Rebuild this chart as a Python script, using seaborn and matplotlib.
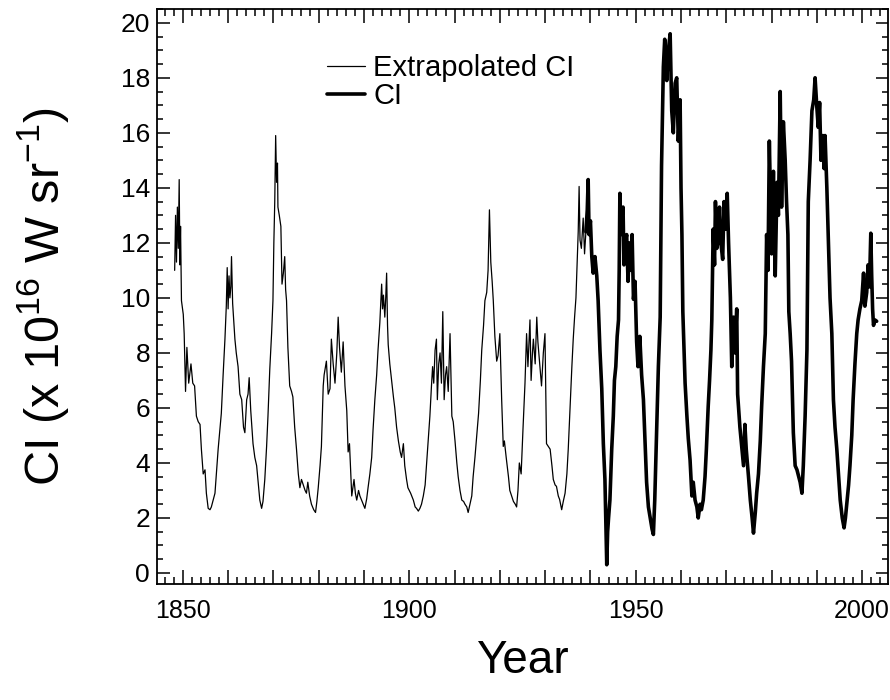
import matplotlib
matplotlib.use('Agg')
import matplotlib.pyplot as plt
import pandas as pd
import seaborn as sns
from matplotlib.ticker import MultipleLocator, FuncFormatter

# extrapolated CI (thin line)
ext_year = [1848.2, 1848.4, 1848.6, 1848.8, 1849.0, 1849.2, 1849.35, 1849.5, 1849.7, 1850.1,
            1850.3, 1850.6, 1850.9, 1851.3, 1851.8, 1852.2, 1852.6, 1853.0, 1853.4, 1853.8,
            1854.1, 1854.5, 1854.9, 1855.2, 1855.6, 1856.0, 1856.3, 1857.1, 1857.8, 1858.5,
            1858.9, 1859.3, 1859.6, 1859.8, 1860.0, 1860.2, 1860.4, 1860.6, 1860.75, 1861.0,
            1861.5, 1861.8, 1862.2, 1862.6, 1863.0, 1863.4, 1863.7, 1864.1, 1864.4, 1864.65,
            1865.0, 1865.5, 1865.9, 1866.3, 1866.7, 1867.0, 1867.4, 1867.7, 1868.1, 1868.5,
            1868.8, 1869.2, 1869.6, 1869.9, 1870.1, 1870.3, 1870.5, 1870.7, 1870.9, 1871.0,
            1871.3, 1871.65, 1871.9, 1872.2, 1872.5, 1872.7, 1872.9, 1873.2, 1873.6, 1874.0,
            1874.3, 1874.7, 1875.1, 1875.5, 1875.85, 1876.2, 1876.6, 1877.0, 1877.3, 1877.6,
            1878.0, 1878.4, 1878.9, 1879.3, 1879.6, 1879.9, 1880.3, 1880.6, 1881.0, 1881.2,
            1881.7, 1882.1, 1882.5, 1882.8, 1883.2, 1883.6, 1884.0, 1884.3, 1884.6, 1885.0,
            1885.4, 1885.8, 1886.2, 1886.5, 1886.8, 1887.3, 1887.8, 1888.1, 1888.4, 1888.8,
            1889.1, 1889.6, 1890.2, 1890.6, 1890.9, 1891.3, 1891.7, 1892.0, 1892.4, 1892.8,
            1893.1, 1893.5, 1893.7, 1893.9, 1894.1, 1894.3, 1894.6, 1894.8, 1895.0, 1895.2,
            1895.35, 1895.7, 1896.1, 1896.5, 1896.8, 1897.2, 1897.6, 1898.0, 1898.3, 1898.7,
            1899.0, 1899.4, 1899.7, 1900.3, 1900.9, 1901.3, 1901.6, 1902.0, 1902.35, 1902.7,
            1903.1, 1903.5, 1903.8, 1904.2, 1904.55, 1904.9, 1905.15, 1905.4, 1905.7, 1906.0,
            1906.2, 1906.5, 1906.8, 1907.1, 1907.4, 1907.7, 1908.0, 1908.25, 1908.6, 1909.0,
            1909.4, 1909.7, 1910.1, 1910.5, 1910.8, 1911.2, 1911.6, 1912.0, 1912.3, 1912.7,
            1913.0, 1913.4, 1913.8, 1914.1, 1914.5, 1914.9, 1915.3, 1915.7, 1916.0, 1916.4,
            1916.7, 1917.1, 1917.4, 1917.7, 1918.0, 1918.3, 1918.55, 1918.9, 1919.3, 1919.6,
            1920.0, 1920.4, 1920.75, 1921.0, 1921.4, 1921.9, 1922.2, 1922.6, 1923.0, 1923.4,
            1923.7, 1924.0, 1924.3, 1924.7, 1925.1, 1925.55, 1925.9, 1926.2, 1926.65, 1926.9,
            1927.2, 1927.4, 1927.8, 1928.15, 1928.4, 1928.8, 1929.2, 1929.6, 1929.96, 1930.3,
            1930.7, 1931.1, 1931.5, 1931.8, 1932.2, 1932.5, 1932.9, 1933.2, 1933.65, 1934.0,
            1934.4, 1934.8, 1935.1, 1935.5, 1935.9, 1936.2, 1936.5, 1936.8, 1937.1, 1937.3,
            1937.5, 1937.7, 1938.0, 1938.4, 1938.7, 1939.0]
ext_ci = [11.0, 13.0, 11.3, 13.3, 11.8, 14.3, 11.2, 12.6, 9.9, 9.4,
          8.7, 6.6, 8.2, 6.9, 7.6, 6.9, 6.8, 5.7, 5.5, 5.4,
          4.5, 3.6, 3.75, 2.9, 2.35, 2.3, 2.4, 2.9, 4.5, 5.8,
          7.2, 8.5, 9.7, 11.1, 9.6, 10.8, 10.0, 10.4, 11.5, 9.8,
          8.5, 8.0, 7.5, 6.5, 6.3, 5.3, 5.1, 6.3, 6.5, 7.1,
          5.9, 4.7, 4.2, 3.9, 3.2, 2.65, 2.35, 2.6, 3.4, 4.6,
          5.7, 7.4, 8.7, 9.9, 12.0, 13.5, 15.9, 14.2, 14.9, 13.3,
          13.0, 12.6, 10.5, 10.9, 11.5, 10.3, 9.9, 8.2, 6.8, 6.6,
          6.4, 5.3, 4.5, 3.6, 3.1, 3.4, 3.2, 3.0, 2.9, 3.3,
          2.8, 2.5, 2.3, 2.2, 2.6, 3.1, 3.9, 4.6, 6.8, 7.2,
          7.7, 6.5, 6.7, 8.5, 7.6, 6.9, 8.0, 9.3, 8.2, 7.3,
          8.4, 6.8, 5.9, 4.4, 4.7, 2.8, 3.4, 2.9, 2.65, 3.0,
          2.8, 2.6, 2.35, 2.7, 3.1, 3.6, 4.2, 5.2, 6.3, 7.2,
          8.1, 9.1, 9.8, 10.5, 9.6, 10.1, 9.3, 10.0, 10.9, 9.0,
          8.3, 7.6, 7.0, 6.4, 6.0, 5.3, 4.8, 4.4, 4.2, 4.7,
          3.9, 3.4, 3.1, 2.9, 2.65, 2.4, 2.35, 2.25, 2.35, 2.5,
          2.8, 3.2, 3.9, 4.8, 5.7, 6.8, 7.5, 6.9, 8.1, 8.5,
          6.3, 7.6, 8.0, 6.9, 9.5, 6.3, 7.2, 7.5, 6.6, 8.7,
          5.7, 5.5, 4.8, 4.0, 3.5, 3.0, 2.65, 2.6, 2.5, 2.4,
          2.2, 2.5, 2.8, 3.5, 4.2, 5.0, 5.8, 7.0, 8.1, 9.0,
          9.9, 10.2, 11.0, 13.2, 11.3, 10.6, 9.9, 8.6, 7.7, 7.9,
          8.7, 6.3, 4.6, 4.8, 4.2, 3.5, 3.0, 2.8, 2.6, 2.5,
          2.4, 3.0, 4.0, 3.6, 5.2, 6.9, 8.7, 7.5, 9.2, 7.0,
          8.0, 8.5, 7.6, 9.3, 8.4, 7.6, 6.8, 8.0, 8.7, 4.7,
          4.6, 4.5, 3.9, 3.4, 3.2, 3.15, 2.8, 2.67, 2.3, 2.6,
          2.9, 3.6, 4.5, 6.0, 7.5, 8.5, 9.3, 10.0, 11.5, 12.4,
          14.05, 12.1, 11.8, 12.9, 11.6, 12.4]

# measured CI (thick line)
obs_year = [1939.0, 1939.3, 1939.5, 1939.7, 1940.0, 1940.3, 1940.6, 1941.0, 1941.4, 1941.7,
            1942.1, 1942.5, 1942.85, 1943.2, 1943.6, 1943.8, 1944.0, 1944.3, 1944.7, 1945.05,
            1945.3, 1945.6, 1945.9, 1946.2, 1946.35, 1946.5, 1946.7, 1947.0, 1947.2, 1947.4,
            1947.7, 1948.0, 1948.3, 1948.6, 1948.9, 1949.2, 1949.5, 1949.85, 1950.2, 1950.5,
            1950.9, 1951.3, 1951.7, 1952.05, 1952.4, 1952.8, 1953.2, 1953.6, 1953.9, 1954.2,
            1954.6, 1955.0, 1955.4, 1955.7, 1956.1, 1956.4, 1956.85, 1957.2, 1957.6, 1957.95,
            1958.3, 1958.7, 1959.05, 1959.4, 1959.8, 1960.0, 1960.2, 1960.4, 1960.6, 1960.9,
            1961.3, 1961.6, 1962.0, 1962.4, 1962.7, 1963.1, 1963.5, 1963.8, 1964.2, 1964.5,
            1964.9, 1965.3, 1965.6, 1966.0, 1966.3, 1966.6, 1966.8, 1967.1, 1967.4, 1967.6,
            1967.9, 1968.2, 1968.5, 1968.8, 1969.2, 1969.5, 1969.8, 1970.2, 1970.5, 1970.9,
            1971.2, 1971.6, 1971.9, 1972.3, 1972.5, 1973.0, 1973.4, 1973.8, 1974.1, 1974.4,
            1974.9, 1975.3, 1975.7, 1976.0, 1976.4, 1976.7, 1977.1, 1977.5, 1977.8, 1978.2,
            1978.6, 1978.9, 1979.2, 1979.5, 1980.0, 1980.4, 1980.8, 1981.2, 1981.5, 1981.9,
            1982.2, 1982.6, 1983.0, 1983.3, 1983.6, 1983.8, 1984.1, 1984.4, 1984.8, 1985.2,
            1985.6, 1986.0, 1986.3, 1986.7, 1987.0, 1987.4, 1987.8, 1988.1, 1988.5, 1988.9,
            1989.3, 1989.6, 1990.0, 1990.3, 1990.6, 1990.9, 1991.3, 1991.6, 1991.8, 1992.2,
            1992.6, 1992.9, 1993.3, 1993.65, 1994.0, 1994.4, 1994.8, 1995.15, 1995.6, 1996.0,
            1996.3, 1996.6, 1997.0, 1997.3, 1997.7, 1998.0, 1998.4, 1998.8, 1999.1, 1999.5,
            1999.9, 2000.3, 2000.6, 2001.0, 2001.3, 2001.6, 2001.9, 2002.1, 2002.3, 2002.5,
            2002.8, 2003.2]
obs_ci = [12.4, 13.2, 14.3, 12.3, 12.8, 11.5, 10.9, 11.5, 10.8, 9.9,
          8.1, 6.7, 4.7, 3.4, 0.3, 1.5, 2.0, 2.65, 4.5, 5.7,
          7.0, 7.5, 8.6, 9.2, 11.0, 13.8, 12.3, 13.0, 13.3, 11.2,
          12.0, 12.3, 10.6, 12.0, 11.0, 12.3, 9.95, 10.6, 8.4, 7.5,
          8.6, 7.2, 6.3, 4.85, 3.3, 2.4, 2.0, 1.6, 1.4, 2.65,
          5.1, 7.5, 9.3, 14.8, 18.4, 19.4, 17.9, 19.0, 19.6, 16.8,
          16.0, 17.8, 18.0, 15.7, 17.2, 14.0, 12.3, 9.5, 8.5, 6.9,
          5.7, 4.9, 4.1, 2.8, 3.3, 2.65, 2.4, 2.0, 2.5, 2.3,
          2.65, 3.5, 4.5, 6.05, 7.0, 8.1, 9.2, 12.5, 11.2, 13.5,
          11.8, 12.1, 13.3, 12.0, 11.4, 13.5, 12.5, 13.8, 12.0, 10.0,
          7.5, 9.3, 8.0, 9.6, 6.5, 5.3, 4.6, 3.9, 5.4, 4.5,
          3.5, 2.65, 2.0, 1.45, 2.2, 2.9, 3.6, 4.8, 6.05, 7.5,
          8.7, 12.3, 11.0, 15.7, 11.6, 14.6, 10.8, 14.2, 13.0, 17.5,
          13.3, 16.4, 15.0, 13.5, 12.3, 9.5, 8.7, 7.7, 5.1, 3.9,
          3.75, 3.5, 3.3, 2.9, 3.9, 5.7, 8.1, 13.5, 15.0, 16.8,
          17.2, 18.0, 16.9, 16.2, 17.1, 15.0, 15.9, 14.7, 15.9, 14.0,
          11.7, 10.0, 8.7, 6.3, 5.3, 4.5, 3.5, 2.65, 2.0, 1.64,
          2.0, 2.5, 3.2, 3.9, 5.0, 6.3, 7.6, 8.7, 9.2, 9.6,
          9.9, 10.9, 9.7, 10.2, 11.2, 10.4, 12.35, 10.8, 9.6, 9.0,
          9.2, 9.15]

assert len(ext_year) == len(ext_ci) and len(obs_year) == len(obs_ci)

ext = pd.DataFrame({'year': ext_year, 'ci': ext_ci})
obs = pd.DataFrame({'year': obs_year, 'ci': obs_ci})

sns.set_theme(style='ticks')
plt.rcParams['font.family'] = ['Liberation Sans', 'DejaVu Sans']
plt.rcParams['text.color'] = 'black'
plt.rcParams['mathtext.fontset'] = 'custom'
plt.rcParams['mathtext.rm'] = 'Liberation Sans'
plt.rcParams['mathtext.it'] = 'Liberation Sans:italic'
plt.rcParams['mathtext.bf'] = 'Liberation Sans:bold'

fig = plt.figure(figsize=(8.9, 7), dpi=100)
ax = fig.add_axes([157 / 890, 116 / 700, 731 / 890, 575 / 700])

sns.lineplot(data=ext, x='year', y='ci', ax=ax, color='black', linewidth=0.9,
             estimator=None, sort=False, label='Extrapolated CI')
sns.lineplot(data=obs, x='year', y='ci', ax=ax, color='black', linewidth=2.6,
             estimator=None, sort=False, label='CI')

ax.set_xlim(1844.3, 2005.7)
ax.set_ylim(-0.4, 20.5)

# ticks: decades + every 2 yrs on x, labels only every 50 yrs
ax.xaxis.set_major_locator(MultipleLocator(10))
ax.xaxis.set_minor_locator(MultipleLocator(2))
ax.xaxis.set_major_formatter(FuncFormatter(lambda v, p: f'{v:.0f}' if round(v) % 50 == 0 else ''))
ax.yaxis.set_major_locator(MultipleLocator(2))
ax.yaxis.set_minor_locator(MultipleLocator(0.5))

ax.tick_params(which='both', direction='in', top=True, right=True, color='black', width=1.1)
ax.tick_params(axis='x', which='major', length=10, pad=11, labelsize=18)
ax.tick_params(axis='x', which='minor', length=5)
ax.tick_params(axis='y', which='major', length=9, pad=5, labelsize=19)
ax.tick_params(axis='y', which='minor', length=4.5)
ax.tick_params(labelcolor='black')

for s in ax.spines.values():
    s.set_color('black')
    s.set_linewidth(1.3)

ax.set_xlabel('Year', fontsize=33, color='black')
ax.set_ylabel(r'CI (x 10$^{16}$ W sr$^{-1}$)', fontsize=35, color='black')
ax.xaxis.set_label_coords(0.5, -0.095)
ax.yaxis.set_label_coords(-0.118, 0.5)

leg = ax.legend(loc='upper left', bbox_to_anchor=(0.232, 0.922), frameon=False, fontsize=21,
                handlelength=1.3, handletextpad=0.3, labelspacing=0.02,
                borderpad=0, borderaxespad=0)
for t in leg.get_texts():
    t.set_color('black')

fig.savefig('out.png', dpi=100)
